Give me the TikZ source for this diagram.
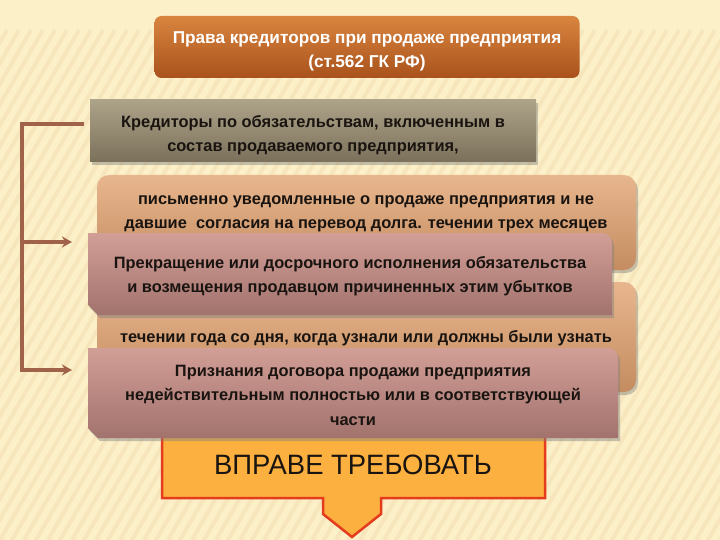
\documentclass[tikz,border=0pt]{standalone}
\usepackage{fontspec}
\setmainfont{Liberation Sans}
\usetikzlibrary{calc,shadows,arrows.meta}

\definecolor{bgcream}{HTML}{FCF0C9}
\definecolor{bgstripe}{HTML}{F7E6BC}
\definecolor{titletop}{HTML}{D9853F}
\definecolor{titlebot}{HTML}{A9521C}
\definecolor{graytop}{HTML}{ADA389}
\definecolor{graybot}{HTML}{7B705A}
\definecolor{tantop}{HTML}{E8B68E}
\definecolor{tanbot}{HTML}{C48C60}
\definecolor{pinktop}{HTML}{D29F97}
\definecolor{pinkbot}{HTML}{A2726D}
\definecolor{calloutfill}{HTML}{FBB040}
\definecolor{calloutline}{HTML}{E63C1E}
\definecolor{connbrown}{HTML}{A0634A}
\definecolor{inktext}{HTML}{1A1410}

\tikzset{
  slot/.style={inner sep=0pt, outer sep=0pt},
  boxtext/.style={align=center, inner sep=0pt, text=inktext,
    font=\fontsize{16.4}{24.5}\selectfont\bfseries},
  shadowed/.style={drop shadow={shadow xshift=2pt, shadow yshift=-3pt, opacity=0.45}},
  titlebox/.style={slot, rounded corners=7pt, top color=titletop, bottom color=titlebot},
  graybox/.style={slot, shadowed, top color=graytop, bottom color=graybot},
  tanbox/.style={shadowed, rounded corners=12pt, top color=tantop, bottom color=tanbot},
  pinkbox/.style={shadowed, top color=pinktop, bottom color=pinkbot},
  conn/.style={draw=connbrown, line width=3.5pt},
  stripe/.style={draw=bgstripe, line width=4pt}
}

% pink box: round top right corner, snipped bottom left corner
\newcommand\snipbox[1]{%
  \shade[pinkbox] (#1.north west) -- ([xshift=-10pt]#1.north east)
    arc[start angle=90, end angle=0, radius=10pt] -- (#1.south east)
    -- ([xshift=10pt]#1.south west) -- ([yshift=10pt]#1.south west) -- cycle;}

\begin{document}
\begin{tikzpicture}[x=1pt, y=-1pt]
  % background
  \useasboundingbox (0,0) rectangle (720,540);
  \fill[bgcream] (0,0) rectangle (720,540);
  \begin{scope}
    \clip (0,30) rectangle (720,540);
    \foreach \s in {-300,-288,...,720}
      \draw[stripe] (\s,540) -- (\s+295,30);
  \end{scope}

  % title
  \node[titlebox, minimum width=425pt, minimum height=62pt] (title) at (367,47) {};
  \node[boxtext, text=white, font=\fontsize{17.2}{24}\selectfont\bfseries] (titletext) at (367,51)
    {Права кредиторов при продаже предприятия\\(ст.562 ГК РФ)};

  % callout behind the boxes
  \fill[calloutfill, draw=calloutline, line width=2.5pt]
    (162,400) -- (545,400) -- (545,498) -- (381,498) -- (381,514) -- (352,537)
    -- (323,514) -- (323,498) -- (162,498) -- cycle;
  \node[font=\fontsize{28}{30}\selectfont, text=inktext] (vprave) at (353,465)
    {\scalebox{0.98}[1]{ВПРАВЕ ТРЕБОВАТЬ}};

  % creditors
  \node[graybox, minimum width=446pt, minimum height=62pt] (kred) at (313,131) {};
  \node[boxtext] (kredtext) at (313,135)
    {Кредиторы по обязательствам, включенным в\\состав продаваемого предприятия,};

  % notified in writing
  \node[slot, minimum width=539pt, minimum height=95pt] (pis1) at (366.5,222.5) {};
  \shade[tanbox] (pis1.south west) rectangle (pis1.north east);
  \node[boxtext] (pis1text) at (366,214)
    {письменно уведомленные о продаже предприятия и не\\давшие\ \ согласия на перевод долга. течении трех месяцев};

  \node[slot, minimum width=539pt, minimum height=110pt] (pis2) at (366.5,337) {};
  \shade[tanbox] (pis2.south west) rectangle (pis2.north east);
  \node[boxtext] (pis2text) at (366,338)
    {течении года со дня, когда узнали или должны были узнать};

  % termination
  \node[slot, minimum width=524pt, minimum height=82pt] (prek) at (350,274) {};
  \snipbox{prek}
  \node[boxtext] (prektext) at (350,276)
    {Прекращение или досрочного исполнения обязательства\\и возмещения продавцом причиненных этим убытков};

  % invalidity
  \node[slot, minimum width=530pt, minimum height=90pt] (priz) at (353,393) {};
  \snipbox{priz}
  \node[boxtext] (priztext) at (353,395)
    {Признания договора продажи предприятия\\недействительным полностью или в соответствующей\\части};

  % connector
  \coordinate (spinetop) at (22,124);
  \coordinate (spinemid) at (22,242);
  \coordinate (spinebot) at (22,370);
  \draw[conn, -{Stealth[length=10pt, width=11pt]}, shorten <=6pt, shorten >=16pt]
    ([yshift=7pt]kred.west) -- (spinetop) -- (spinebot) -- (priz.west |- spinebot);
  \draw[conn, -{Stealth[length=10pt, width=11pt]}, shorten >=16pt]
    (spinemid) -- (prek.west |- spinemid);
\end{tikzpicture}
\end{document}
